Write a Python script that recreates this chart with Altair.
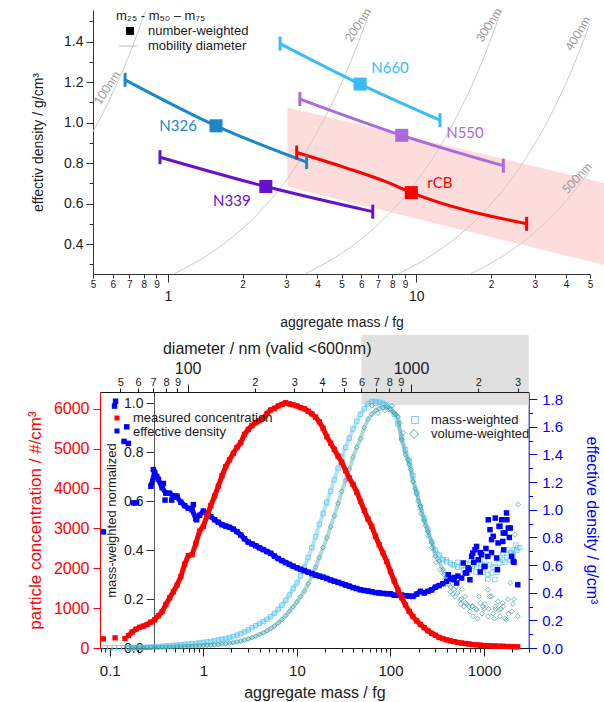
import altair as alt
import pandas as pd

FONT = "Liberation Sans"

# ------------------------------------------------------------------
# Upper panel: effective density of the carbon black samples
# ------------------------------------------------------------------
SAMPLES = ["N660", "N550", "N326", "N339", "rCB"]
SAMPLE_COLORS = ["#3bbcf7", "#a96bd9", "#1a87c7", "#6612cc", "#ff0000"]
M25 = [2.83, 3.40, 0.673, 0.93, 3.30]
RHO25 = [1.39, 1.116, 1.211, 0.829, 0.852]
M50 = [5.94, 8.74, 1.563, 2.48, 9.55]
RHO50 = [1.19, 0.937, 0.984, 0.684, 0.654]
M75 = [12.45, 22.4, 3.62, 6.68, 27.8]
RHO75 = [1.012, 0.787, 0.805, 0.56, 0.50]
# the rCB whisker bends between m25 and m50
RCB_BEND_M = [5.25, 7.5]
RCB_BEND_RHO = [0.775, 0.709]
LABEL_M = [7.84, 15.7, 1.10, 1.81, 12.45]
LABEL_RHO = [1.27, 0.947, 0.983, 0.614, 0.703]

# shaded range
BAND_M = [3.03, 56.9]
BAND_HI = [1.075, 0.7015]
BAND_LO = [0.683, 0.296]

# lines of constant mobility diameter
MOB_NAMES = ["100nm", "200nm", "300nm", "400nm", "500nm"]
MOB_M = [
    [0.5, 0.55, 0.6, 0.65, 0.7, 0.75, 0.815],
    [1.055, 1.5, 2, 3, 4, 5, 6, 6.52],
    [3.56, 5, 7, 10, 13, 16, 19, 22.0],
    [8.44, 12, 16, 20, 25, 30, 35, 40, 45, 50],
    [16.5, 20, 25, 30, 35, 40, 45, 50],
]
MOB_RHO = [
    [0.955, 1.050, 1.146, 1.241, 1.337, 1.432, 1.556],
    [0.252, 0.358, 0.477, 0.716, 0.955, 1.194, 1.432, 1.556],
    [0.252, 0.354, 0.495, 0.707, 0.920, 1.132, 1.344, 1.556],
    [0.252, 0.358, 0.477, 0.597, 0.746, 0.895, 1.044, 1.194, 1.343, 1.492],
    [0.252, 0.306, 0.382, 0.458, 0.535, 0.611, 0.688, 0.764],
]
MOB_LABEL_M = [0.569, 5.83, 19.6, 44.7, 44.3]
MOB_LABEL_RHO = [1.171, 1.482, 1.482, 1.44, 0.726]
MOB_LABEL_ANGLE = [303, 303, 302, 300, 312]

TOP_MASS_TICKS = [0.5, 0.6, 0.7, 0.8, 0.9, 1, 2, 3, 4, 5, 6, 7, 8, 9,
                  10, 20, 30, 40, 50]
TOP_RHO_TICKS = [0.3, 0.4, 0.5, 0.6, 0.7, 0.8, 0.9, 1.0, 1.1, 1.2, 1.3, 1.4, 1.5]

# ------------------------------------------------------------------
# Lower panel: size distribution of rCB
# ------------------------------------------------------------------
GRID_LOGM = [
    -0.80, -0.76, -0.72, -0.68, -0.64, -0.60, -0.56, -0.52, -0.48, -0.44,
    -0.40, -0.36, -0.32, -0.28, -0.24, -0.20, -0.16, -0.12, -0.08, -0.04,
    0.00, 0.04, 0.08, 0.12, 0.16, 0.20, 0.24, 0.28, 0.32, 0.36,
    0.40, 0.44, 0.48, 0.52, 0.56, 0.60, 0.64, 0.68, 0.72, 0.76,
    0.80, 0.84, 0.88, 0.92, 0.96, 1.00, 1.04, 1.08, 1.12, 1.16,
    1.20, 1.24, 1.28, 1.32, 1.36, 1.40, 1.44, 1.48, 1.52, 1.56,
    1.60, 1.64, 1.68, 1.72, 1.76, 1.80, 1.84, 1.88, 1.92, 1.96,
    2.00, 2.04, 2.08, 2.12, 2.16, 2.20, 2.24, 2.28, 2.32, 2.36,
    2.40, 2.44, 2.48, 2.52, 2.56, 2.60, 2.64, 2.68, 2.72, 2.76,
    2.80, 2.84, 2.88, 2.92, 2.96, 3.00, 3.04, 3.08, 3.12, 3.16,
    3.20, 3.24, 3.28, 3.32, 3.36,
]
# grid index where the size bins stop being smooth (scatter begins)
SMOOTH_END_DENS = 84
SMOOTH_END_WEIGHTED = 86

# measured number concentration (#/cm3)
CONC = [
    310, 400, 470, 520, 550, 590, 650, 705, 810, 910,
    1090, 1260, 1410, 1580, 1790, 2100, 2320, 2340, 2620, 2930,
    3050, 3320, 3570, 3810, 4060, 4320, 4550, 4720, 4880, 5030,
    5150, 5360, 5480, 5580, 5650, 5700, 5760, 5880, 5970, 6010,
    6070, 6110, 6150, 6120, 6100, 6070, 6030, 6000, 5940, 5870,
    5790, 5670, 5510, 5300, 5140, 4980, 4810, 4660, 4450, 4260,
    4100, 3910, 3680, 3450, 3230, 3050, 2800, 2590, 2380, 2170,
    1920, 1680, 1460, 1260, 1080, 920, 790, 680, 590, 510,
    430, 370, 320, 265, 235, 205, 180, 160, 140, 125,
    112, 100, 88, 80, 70, 62, 57, 52, 48, 45,
    42, 39, 36, 33, 30,
]
CONC_LOW_LOGM = [-1.068, -0.943, -0.837]
CONC_LOW = [230, 255, 240]

# effective density (g/cm3), starting at the 7th grid mass
DENS_START = 6
DENS = [
    1.17, 1.27, 1.22, 1.16, 1.12, 1.12, 1.10, 1.09, 1.055, 1.03,
    1.01, 1.00, 0.935, 0.96, 0.99, 0.975, 0.95, 0.928, 0.91, 0.892,
    0.882, 0.873, 0.86, 0.842, 0.818, 0.79, 0.766, 0.753, 0.74, 0.725,
    0.712, 0.698, 0.685, 0.665, 0.647, 0.632, 0.618, 0.605, 0.592, 0.58,
    0.569, 0.56, 0.549, 0.539, 0.528, 0.52, 0.512, 0.503, 0.492, 0.483,
    0.475, 0.466, 0.456, 0.447, 0.437, 0.43, 0.421, 0.416, 0.412, 0.407,
    0.401, 0.398, 0.395, 0.393, 0.392, 0.382, 0.381, 0.383, 0.378, 0.376,
    0.373, 0.39, 0.41, 0.398, 0.41, 0.42, 0.44, 0.452, 0.465, 0.482,
    0.50, 0.51, 0.52, 0.506, 0.543, 0.567, 0.687, 0.735, 0.69, 0.59,
    0.663, 0.784, 0.94, 0.88, 0.771, 0.977, 0.868, 0.62, 0.458,
]
DENS_EXTRA_LOGM = [
    -1.068, -0.949, -0.938, -0.847, -0.818, -0.801, -0.748, -0.712,
    -0.534, -0.498, -0.427, -0.409, -0.338, -0.284, -0.107, -0.071,
    2.618, 2.671, 2.707, 2.778, 2.814, 2.849, 2.868, 2.903, 2.938, 2.974,
    3.010, 3.045, 3.063, 3.098, 3.135, 3.143, 3.170, 3.188, 3.205, 3.223,
    3.244, 3.259, 3.295, 3.312, 2.83, 2.89, 2.96, 3.02, 3.08, 3.15,
    3.21, 3.27,
]
DENS_EXTRA = [
    0.84, 1.75, 1.785, 1.495, 1.60, 1.48, 1.05, 1.05,
    1.29, 1.24, 1.19, 1.07, 1.07, 1.10, 1.037, 0.928,
    0.53, 0.494, 0.47, 0.615, 0.543, 0.494, 0.663, 0.711, 0.639, 0.675,
    0.59, 0.928, 0.856, 0.808, 0.651, 0.567, 0.88, 0.928, 0.832, 0.832,
    0.928, 0.868, 0.663, 0.627, 0.58, 0.62, 0.55, 0.72, 0.69, 0.76,
    0.71, 0.80,
]

# mass-weighted distribution, normalized
MASS_W = [
    0.001, 0.001, 0.002, 0.002, 0.003, 0.003, 0.004, 0.005, 0.006, 0.007,
    0.008, 0.009, 0.011, 0.012, 0.013, 0.015, 0.016, 0.018, 0.019, 0.021,
    0.023, 0.025, 0.027, 0.03, 0.033, 0.036, 0.039, 0.043, 0.047, 0.053,
    0.059, 0.066, 0.074, 0.083, 0.091, 0.1, 0.108, 0.117, 0.128, 0.142,
    0.158, 0.175, 0.195, 0.217, 0.243, 0.266, 0.295, 0.33, 0.37, 0.41,
    0.455, 0.505, 0.55, 0.595, 0.64, 0.688, 0.735, 0.78, 0.82, 0.858,
    0.895, 0.926, 0.955, 0.978, 0.998, 1.007, 1.008, 1.005, 1.0, 0.993,
    0.975, 0.955, 0.915, 0.86, 0.81, 0.765, 0.705, 0.635, 0.575, 0.53,
    0.485, 0.435, 0.40, 0.38, 0.362, 0.352, 0.347, 0.34, 0.33, 0.335,
    0.345, 0.32, 0.335, 0.33, 0.313, 0.36, 0.28, 0.306, 0.33, 0.347,
    0.388, 0.37, 0.388, 0.402, 0.41,
]
MASS_W_EXTRA_LOGM = [-1.05, -1.0, -0.95, -0.9, -0.85, 1.845, 1.909, 2.849, 2.914,
                     2.978, 3.042, 3.096, 3.116, 3.17, 3.223, 3.255, 3.277, 3.309,
                     3.341, 3.383, 2.60, 2.66, 2.72, 2.78, 2.86, 2.92, 2.99, 3.06,
                     3.14, 3.20, 3.29, 3.35]
MASS_W_EXTRA = [0.001, 0.001, 0.001, 0.001, 0.001, 1.0, 0.995, 0.34, 0.31,
                0.34, 0.30, 0.33, 0.28, 0.37, 0.35, 0.40, 0.36, 0.38,
                0.42, 0.41, 0.36, 0.34, 0.35, 0.32, 0.36, 0.34, 0.31, 0.34,
                0.31, 0.36, 0.39, 0.40]

# volume-weighted distribution, normalized
VOL_W = [
    0.0, 0.0, 0.001, 0.001, 0.001, 0.001, 0.002, 0.002, 0.002, 0.003,
    0.003, 0.004, 0.004, 0.005, 0.005, 0.006, 0.007, 0.007, 0.008, 0.009,
    0.01, 0.011, 0.012, 0.013, 0.014, 0.016, 0.018, 0.02, 0.022, 0.025,
    0.028, 0.032, 0.037, 0.042, 0.048, 0.055, 0.062, 0.07, 0.079, 0.09,
    0.102, 0.116, 0.132, 0.15, 0.168, 0.188, 0.21, 0.232, 0.262, 0.295,
    0.33, 0.37, 0.41, 0.45, 0.495, 0.54, 0.59, 0.64, 0.685, 0.73,
    0.78, 0.82, 0.855, 0.9, 0.935, 0.955, 0.97, 0.978, 0.982, 0.985,
    0.975, 0.96, 0.945, 0.85, 0.79, 0.75, 0.68, 0.63, 0.58, 0.52,
    0.475, 0.43, 0.375, 0.355, 0.32, 0.29, 0.25, 0.24, 0.225, 0.2,
    0.185, 0.17, 0.172, 0.156, 0.184, 0.16, 0.238, 0.211, 0.17, 0.156,
    0.184, 0.116, 0.266, 0.2, 0.13,
]
VOL_W_EXTRA_LOGM = [
    1.802, 1.866, 1.942, 2.016, 2.059, 2.101, 2.134, 2.188, 2.219, 2.262,
    2.294, 2.326, 2.369, 2.401, 2.443, 2.486, 2.529, 2.572, 2.593, 2.625,
    2.668, 2.700, 2.743, 2.764, 2.785, 2.817, 2.849, 2.881, 2.914, 2.946,
    2.978, 3.010, 3.042, 3.063, 3.096, 3.124, 3.147, 3.170, 3.202, 3.223,
    3.255, 3.298, 3.330, 3.365, 2.58, 2.64, 2.69, 2.75, 2.80, 2.87,
    2.93, 2.99, 3.05, 3.11, 3.18, 3.26, 3.31,
]
VOL_W_EXTRA = [
    0.99, 0.96, 0.97, 0.99, 0.955, 0.92, 0.88, 0.77, 0.73, 0.65,
    0.60, 0.55, 0.50, 0.46, 0.41, 0.35, 0.32, 0.30, 0.27, 0.26,
    0.22, 0.25, 0.197, 0.24, 0.17, 0.18, 0.15, 0.13, 0.16, 0.21,
    0.14, 0.18, 0.13, 0.21, 0.14, 0.16, 0.19, 0.13, 0.17, 0.12,
    0.20, 0.15, 0.463, 0.586, 0.28, 0.23, 0.21, 0.18, 0.21, 0.17,
    0.12, 0.17, 0.16, 0.12, 0.16, 0.14, 0.18,
]

VALID_DIAM = [600, 3366]  # shaded: diameters above the valid range

BOT_MASS_TICKS = [0.08, 0.09, 0.1, 0.2, 0.3, 0.4, 0.5, 0.6, 0.7, 0.8, 0.9,
                  1, 2, 3, 4, 5, 6, 7, 8, 9, 10, 20, 30, 40, 50, 60, 70, 80, 90,
                  100, 200, 300, 400, 500, 600, 700, 800, 900, 1000, 2000, 3000]
DIAM_TICKS = [50, 60, 70, 80, 90, 100, 200, 300, 400, 500, 600, 700, 800, 900,
              1000, 2000, 3000]
CONC_TICKS = [0, 1000, 2000, 3000, 4000, 5000, 6000]
DENS_TICKS = [0.0, 0.1, 0.2, 0.3, 0.4, 0.5, 0.6, 0.7, 0.8, 0.9, 1.0, 1.1, 1.2,
              1.3, 1.4, 1.5, 1.6, 1.7, 1.8]
NORM_TICKS = [0.0, 0.2, 0.4, 0.6, 0.8, 1.0]

# ------------------------------------------------------------------
# scales (one canvas, each panel owns its own pixel ranges)
# ------------------------------------------------------------------
TOP_M_SCALE = alt.Scale(type="log", domain=[0.5, 50], range=[93, 590], nice=False)
TOP_RHO_SCALE = alt.Scale(domain=[0.252, 1.556], range=[274, 10], nice=False, zero=False)
BOT_M_SCALE = alt.Scale(type="log", domain=[0.0787, 3000], range=[100, 528.7], nice=False)
DIAM_SCALE = alt.Scale(type="log", domain=[40.5, 3366], range=[100, 528.7], nice=False)
CONC_SCALE = alt.Scale(domain=[0, 6420], range=[648, 392], nice=False, zero=False)
DENS_SCALE = alt.Scale(domain=[0, 1.852], range=[648, 392], nice=False, zero=False)
NORM_SCALE = alt.Scale(domain=[0, 1.046], range=[648, 392], nice=False, zero=False)

BLACK = "#1a1a1a"
RED = "#ff0000"
BLUE = "#0000ff"
LIGHT_BLUE = "#55c4f2"
TEAL = "#3a9ea3"


def cond(test, a, b):
    return {"condition": {"test": test, "value": a}, "value": b}


def single():
    return pd.DataFrame({"k": [0]})


# ------------------------------ upper panel ------------------------------
top_major = "datum.value == 1 || datum.value == 10"
top_x_axis = alt.Axis(
    orient="bottom", offset=-428, values=TOP_MASS_TICKS, format="~g",
    labelExpr="datum.label == '1' || datum.label == '10' ? datum.label : "
              "substring(replace(datum.label, '0.', ''), 0, 1)",
    labelFontSize=cond(top_major, 14, 10),
    labelPadding=cond(top_major, 7, 1),
    tickSize=cond(top_major, 8, 4),
    labelFlush=False, labelOverlap=False, labelColor=BLACK,
    domainColor="#333333", tickColor="#333333",
    title="aggregate mass / fg", titleFontSize=14, titleColor=BLACK,
    titleY=48, titleBaseline="middle",
)
rho_major = "round(datum.value * 10) % 2 == 0"
top_y_axis = alt.Axis(
    orient="left", offset=-93, values=TOP_RHO_TICKS,
    labelExpr=f"{rho_major} ? format(datum.value, '.1f') : ''",
    tickSize=cond(rho_major, 7, 4),
    labelFontSize=14, labelPadding=3, labelColor=BLACK, labelOverlap=False,
    domainColor="#333333", tickColor="#333333",
    title="effectiv density / g/cm³", titleFontSize=14, titleColor=BLACK,
    titleX=-48,
)

band_df = pd.DataFrame({"m": BAND_M, "hi": BAND_HI, "lo": BAND_LO})
band = alt.Chart(band_df).mark_area(color="#fddcdc", opacity=1).encode(
    x=alt.X("m:Q", scale=TOP_M_SCALE, axis=top_x_axis),
    y=alt.Y("hi:Q", scale=TOP_RHO_SCALE, axis=top_y_axis),
    y2=alt.Y2("lo:Q"),
)

mob_rows = []
for name, ms, rs in zip(MOB_NAMES, MOB_M, MOB_RHO):
    for m, r in zip(ms, rs):
        mob_rows.append({"d": name, "m": m, "rho": r})
mob = alt.Chart(pd.DataFrame(mob_rows)).mark_line(
    color="#cccccc", strokeWidth=1, interpolate="monotone"
).encode(
    x=alt.X("m:Q", scale=TOP_M_SCALE, axis=None),
    y=alt.Y("rho:Q", scale=TOP_RHO_SCALE, axis=None),
    detail="d:N",
)

mob_labels = []
for name, m, r, ang in zip(MOB_NAMES, MOB_LABEL_M, MOB_LABEL_RHO, MOB_LABEL_ANGLE):
    mob_labels.append(
        alt.Chart(pd.DataFrame({"d": [name], "m": [m], "rho": [r]}))
        .mark_text(font="Lato", fontSize=12, color="#999999", angle=ang,
                   align="center", baseline="middle")
        .encode(
            x=alt.X("m:Q", scale=TOP_M_SCALE, axis=None),
            y=alt.Y("rho:Q", scale=TOP_RHO_SCALE, axis=None),
            text="d:N",
        )
    )

sample_color = alt.Color("s:N", scale=alt.Scale(domain=SAMPLES, range=SAMPLE_COLORS),
                         legend=None)

path_rows = []
for s, a, ra, b, rb, c, rc in zip(SAMPLES, M25, RHO25, M50, RHO50, M75, RHO75):
    pts = [(a, ra), (b, rb), (c, rc)]
    if s == "rCB":
        pts = [(a, ra)] + list(zip(RCB_BEND_M, RCB_BEND_RHO)) + [(b, rb), (c, rc)]
    for m, r in pts:
        path_rows.append({"s": s, "m": m, "rho": r})
whisker = alt.Chart(pd.DataFrame(path_rows)).mark_line(
    strokeWidth=3, interpolate="monotone"
).encode(
    x=alt.X("m:Q", scale=TOP_M_SCALE, axis=None),
    y=alt.Y("rho:Q", scale=TOP_RHO_SCALE, axis=None),
    color=sample_color,
)

cap_df = pd.DataFrame({"s": SAMPLES * 2, "m": M25 + M75, "rho": RHO25 + RHO75})
caps = alt.Chart(cap_df).mark_tick(orient="vertical", size=14, thickness=3, opacity=1).encode(
    x=alt.X("m:Q", scale=TOP_M_SCALE, axis=None),
    y=alt.Y("rho:Q", scale=TOP_RHO_SCALE, axis=None),
    color=sample_color,
)

med_df = pd.DataFrame({"s": SAMPLES, "m": M50, "rho": RHO50})
medians = alt.Chart(med_df).mark_square(size=170, opacity=1).encode(
    x=alt.X("m:Q", scale=TOP_M_SCALE, axis=None),
    y=alt.Y("rho:Q", scale=TOP_RHO_SCALE, axis=None),
    color=sample_color,
)

lab_df = pd.DataFrame({"s": SAMPLES, "m": LABEL_M, "rho": LABEL_RHO})
sample_labels = alt.Chart(lab_df).mark_text(
    font="Lato", fontSize=15, align="center", baseline="middle"
).encode(
    x=alt.X("m:Q", scale=TOP_M_SCALE, axis=None),
    y=alt.Y("rho:Q", scale=TOP_RHO_SCALE, axis=None),
    color=sample_color,
    text="s:N",
)

top_legend = [
    alt.Chart(single()).mark_text(font=FONT, fontSize=13, align="left", baseline="middle",
                                  color=BLACK)
    .encode(x=alt.value(116), y=alt.value(16), text=alt.value("m₂₅ - m₅₀ – m₇₅")),
    alt.Chart(single()).mark_square(size=64, color="black", opacity=1)
    .encode(x=alt.value(130), y=alt.value(31)),
    alt.Chart(single()).mark_text(font=FONT, fontSize=13, align="left", baseline="middle",
                                  color=BLACK)
    .encode(x=alt.value(148), y=alt.value(31), text=alt.value("number-weighted")),
    alt.Chart(single()).mark_rule(color="#bbbbbb", strokeWidth=1)
    .encode(x=alt.value(119), x2=alt.value(137), y=alt.value(46)),
    alt.Chart(single()).mark_text(font=FONT, fontSize=13, align="left", baseline="middle",
                                  color=BLACK)
    .encode(x=alt.value(148), y=alt.value(46), text=alt.value("mobility diameter")),
]

# ------------------------------ lower panel ------------------------------
diam_major = "datum.value == 100 || datum.value == 1000"
diam_axis = alt.Axis(
    orient="top", offset=-392, values=DIAM_TICKS, format="~g",
    labelExpr="datum.label == '100' || datum.label == '1000' ? datum.label : "
              "substring(datum.label, 0, 1)",
    labelFontSize=cond(diam_major, 16, 11),
    labelPadding=cond(diam_major, 8, 1),
    tickSize=cond(diam_major, 8, 4),
    labelFlush=False, labelOverlap=False, labelColor=BLACK,
    domainColor=BLACK, tickColor=BLACK, zindex=1,
    title="diameter / nm (valid <600nm)", titleFontSize=16, titleColor=BLACK,
    titleX=266.7, titleY=-44, titleBaseline="middle",
)
valid_df = pd.DataFrame({"d0": [VALID_DIAM[0]], "d1": [VALID_DIAM[1]]})
valid_band = alt.Chart(valid_df).mark_rect(color="#e0e0e0").encode(
    x=alt.X("d0:Q", scale=DIAM_SCALE, axis=diam_axis),
    x2=alt.X2("d1:Q"),
    y=alt.value(335),
    y2=alt.value(405),
)

grid_mass = [10 ** v for v in GRID_LOGM]


def bx(axis=None):
    return alt.X("m:Q", scale=BOT_M_SCALE, axis=axis)


norm_axis = alt.Axis(
    orient="left", offset=-154, values=NORM_TICKS, format=".1f",
    labelFontSize=14, labelPadding=3, tickSize=8, labelColor=BLACK,
    domainColor="#555555", tickColor="#333333", labelOverlap=False,
    title="mass-weighted normalized", titleFontSize=13, titleColor=BLACK,
    titleX=-36,
)
mw_df = pd.DataFrame({
    "m": grid_mass + [10 ** v for v in MASS_W_EXTRA_LOGM],
    "v": MASS_W + MASS_W_EXTRA,
})
mw_smooth = pd.DataFrame({"m": grid_mass[:SMOOTH_END_WEIGHTED],
                          "v": MASS_W[:SMOOTH_END_WEIGHTED]})
mass_weighted_band = alt.Chart(mw_smooth).mark_line(
    color=LIGHT_BLUE, strokeWidth=4, opacity=0.45
).encode(x=bx(), y=alt.Y("v:Q", scale=NORM_SCALE, axis=norm_axis))
mass_weighted = alt.Chart(mw_df).mark_point(
    shape="square", filled=False, size=20, strokeWidth=0.7, color=LIGHT_BLUE, opacity=1
).encode(x=bx(), y=alt.Y("v:Q", scale=NORM_SCALE, axis=None))

vw_df = pd.DataFrame({
    "m": grid_mass + [10 ** v for v in VOL_W_EXTRA_LOGM],
    "v": VOL_W + VOL_W_EXTRA,
})
vw_smooth = pd.DataFrame({"m": grid_mass[:SMOOTH_END_WEIGHTED],
                          "v": VOL_W[:SMOOTH_END_WEIGHTED]})
volume_weighted_band = alt.Chart(vw_smooth).mark_line(
    color=TEAL, strokeWidth=4, opacity=0.4
).encode(x=bx(), y=alt.Y("v:Q", scale=NORM_SCALE, axis=None))
volume_weighted = alt.Chart(vw_df).mark_point(
    shape="diamond", filled=False, size=24, strokeWidth=0.7, color=TEAL, opacity=1
).encode(x=bx(), y=alt.Y("v:Q", scale=NORM_SCALE, axis=None))

dens_major = "round(datum.value * 10) % 2 == 0"
dens_axis = alt.Axis(
    orient="right", offset=-75.3, values=DENS_TICKS,
    labelExpr=f"{dens_major} ? format(datum.value, '.1f') : ''",
    tickSize=cond(dens_major, 8, 4),
    labelFontSize=15, labelPadding=5, labelColor=BLUE, labelOverlap=False,
    domainColor=BLUE, tickColor=BLUE,
    title="effective density / g/cm³", titleFontSize=16, titleColor=BLUE,
    titleX=55,
)
dens_df = pd.DataFrame({
    "m": grid_mass[DENS_START:] + [10 ** v for v in DENS_EXTRA_LOGM],
    "rho": DENS + DENS_EXTRA,
})
dens_smooth = pd.DataFrame({"m": grid_mass[DENS_START:SMOOTH_END_DENS],
                            "rho": DENS[:SMOOTH_END_DENS - DENS_START]})
density_band = alt.Chart(dens_smooth).mark_line(color=BLUE, strokeWidth=5).encode(
    x=bx(), y=alt.Y("rho:Q", scale=DENS_SCALE, axis=dens_axis))
density = alt.Chart(dens_df).mark_square(size=30, color=BLUE, opacity=1).encode(
    x=bx(), y=alt.Y("rho:Q", scale=DENS_SCALE, axis=None))

bot_major = "datum.value == 0.1 || datum.value == 1 || datum.value == 10 || " \
            "datum.value == 100 || datum.value == 1000"
bot_x_axis = alt.Axis(
    orient="bottom", offset=-54, values=BOT_MASS_TICKS, format="~g",
    labelExpr=f"{bot_major} ? datum.label : ''",
    tickSize=cond(bot_major, 8, 4),
    labelFontSize=15, labelPadding=7, labelColor=BLACK,
    labelFlush=False, labelOverlap=False,
    domainColor=BLACK, tickColor=BLACK,
    title="aggregate mass / fg", titleFontSize=16, titleColor=BLACK,
    titleY=44, titleBaseline="middle",
)
conc_axis = alt.Axis(
    orient="left", offset=-100, values=CONC_TICKS, format="d",
    labelFontSize=16, labelPadding=4, tickSize=7, labelColor=RED,
    domainColor=RED, tickColor=RED, labelOverlap=False,
    title="particle concentration / #/cm³", titleFontSize=17, titleColor=RED,
    titleX=-56,
)
conc_df = pd.DataFrame({
    "m": [10 ** v for v in CONC_LOW_LOGM] + grid_mass,
    "c": CONC_LOW + CONC,
})
conc_smooth = pd.DataFrame({"m": grid_mass, "c": CONC})
concentration_band = alt.Chart(conc_smooth).mark_line(color=RED, strokeWidth=5).encode(
    x=bx(bot_x_axis), y=alt.Y("c:Q", scale=CONC_SCALE, axis=conc_axis))
concentration = alt.Chart(conc_df).mark_square(size=28, color=RED, opacity=1).encode(
    x=bx(), y=alt.Y("c:Q", scale=CONC_SCALE, axis=None))


def legend_text(label, x, y):
    return alt.Chart(single()).mark_text(
        font=FONT, fontSize=13, align="left", baseline="middle", color=BLACK
    ).encode(x=alt.value(x), y=alt.value(y), text=alt.value(label))


bottom_legend = [
    alt.Chart(single()).mark_square(size=25, color=RED, opacity=1)
    .encode(x=alt.value(117), y=alt.value(418)),
    legend_text("measured concentration", 133, 418),
    alt.Chart(single()).mark_square(size=25, color=BLUE, opacity=1)
    .encode(x=alt.value(117), y=alt.value(431)),
    legend_text("effective density", 133, 432),
    alt.Chart(single()).mark_point(shape="square", filled=False, size=49, strokeWidth=0.8,
                                   color=LIGHT_BLUE, opacity=1)
    .encode(x=alt.value(415), y=alt.value(420)),
    legend_text("mass-weighted", 431, 420),
    alt.Chart(single()).mark_point(shape="diamond", filled=False, size=80, strokeWidth=0.8,
                                   color=TEAL, opacity=1)
    .encode(x=alt.value(414), y=alt.value(434)),
    legend_text("volume-weighted", 431, 434),
]

layers = (
    [band, mob] + mob_labels + [whisker, caps, medians, sample_labels] + top_legend
    + [valid_band, mass_weighted_band, mass_weighted, volume_weighted_band,
       volume_weighted, density_band, density, concentration_band, concentration]
    + bottom_legend
)

chart = (
    alt.layer(*layers)
    .resolve_scale(x="independent", y="independent")
    .properties(width=604, height=702, padding=0,
                autosize=alt.AutoSizeParams(type="none"))
    .configure_view(stroke=None)
    .configure_axis(grid=False, labelFont=FONT, titleFont=FONT,
                    titleFontWeight="normal", domainWidth=1, tickWidth=1)
)

chart.save("out.html", embed_options={"renderer": "svg", "actions": False})
